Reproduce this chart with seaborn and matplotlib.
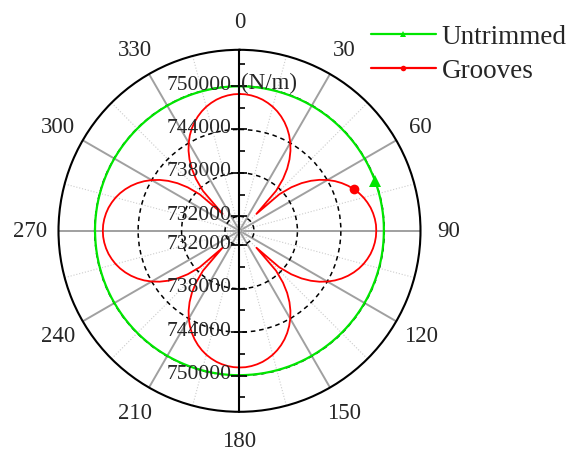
import numpy as np
import pandas as pd
import matplotlib
matplotlib.use("Agg")
import matplotlib.pyplot as plt
import matplotlib.transforms as mtransforms
from matplotlib.lines import Line2D
import seaborn as sns

# angle in degrees (0 at top, clockwise) and stiffness in N/m, read every 2.5 deg
angles_deg = [i * 2.5 for i in range(145)]

grooves = [
    # 0 - 87.5
    748900, 748870, 748770, 748610, 748390, 748090, 747740, 747310, 746810,
    746240, 745590, 744860, 744030, 743100, 742040, 740820, 739360, 737480,
    733300, 737480, 739360, 740820, 742040, 743100, 744030, 744860, 745590,
    746240, 746810, 747310, 747740, 748090, 748390, 748610, 748770, 748870,
    # 90 - 177.5
    748890, 748860, 748760, 748600, 748380, 748080, 747730, 747300, 746800,
    746230, 745580, 744850, 744020, 743090, 742030, 740810, 739350, 737470,
    733300, 737470, 739350, 740810, 742030, 743090, 744020, 744850, 745580,
    746230, 746800, 747300, 747730, 748080, 748380, 748600, 748760, 748860,
    # 180 - 267.5
    748880, 748850, 748750, 748590, 748370, 748070, 747720, 747290, 746790,
    746220, 745570, 744840, 744010, 743080, 742020, 740800, 739340, 737460,
    733300, 737460, 739340, 740800, 742020, 743080, 744010, 744840, 745570,
    746220, 746790, 747290, 747720, 748070, 748370, 748590, 748750, 748850,
    # 270 - 357.5
    748880, 748850, 748750, 748590, 748370, 748070, 747720, 747290, 746790,
    746220, 745570, 744840, 744010, 743080, 742020, 740800, 739340, 737460,
    733300, 737480, 739360, 740820, 742040, 743100, 744030, 744860, 745590,
    746240, 746810, 747310, 747740, 748090, 748390, 748610, 748770, 748870,
    # 360
    748900,
]

untrimmed = [
    749960, 749960, 749960, 749960, 749960, 749950, 749950, 749950, 749950,
    749950, 749950, 749950, 749950, 749950, 749950, 749950, 749950, 749950,
    749950, 749950, 749950, 749950, 749950, 749950, 749950, 749950, 749950,
    749950, 749950, 749950, 749950, 749950, 749950, 749950, 749950, 749950,
    749940, 749940, 749940, 749940, 749940, 749940, 749940, 749940, 749940,
    749940, 749940, 749940, 749940, 749940, 749940, 749940, 749940, 749940,
    749940, 749940, 749940, 749940, 749940, 749940, 749940, 749940, 749940,
    749940, 749940, 749940, 749940, 749940, 749940, 749940, 749940, 749940,
    749950, 749950, 749950, 749950, 749950, 749950, 749950, 749950, 749950,
    749950, 749950, 749950, 749950, 749950, 749950, 749950, 749950, 749950,
    749950, 749950, 749950, 749950, 749950, 749950, 749950, 749950, 749950,
    749950, 749950, 749950, 749950, 749950, 749950, 749950, 749950, 749950,
    749960, 749960, 749960, 749960, 749960, 749960, 749960, 749960, 749960,
    749960, 749960, 749960, 749960, 749960, 749960, 749960, 749960, 749960,
    749960, 749960, 749960, 749960, 749960, 749960, 749960, 749960, 749960,
    749960, 749960, 749960, 749960, 749960, 749960, 749960, 749960, 749960,
    749960,
]

theta_labels = list(range(0, 360, 30))
theta_minor = list(range(15, 360, 30))
r_major = [732000, 738000, 744000, 750000]
r_minor = [735000, 741000, 747000, 753000]
r_lim = (730000, 755000)
marker_at = 28  # the single symbol sits at 70 deg

df = pd.DataFrame({
    "theta": np.deg2rad(angles_deg),
    "Grooves": grooves,
    "Untrimmed": untrimmed,
})

sns.set_style("white")
plt.rcParams["font.family"] = ["Liberation Serif", "DejaVu Serif"]

fig = plt.figure(figsize=(5.69, 4.52), dpi=100)
ax = fig.add_axes([0.10281, 0.08673, 0.63620, 0.80088], projection="polar")
ax.set_theta_zero_location("N")
ax.set_theta_direction(-1)
ax.set_ylim(*r_lim)

green = "#00e600"
red = "#ff0000"

sns.lineplot(data=df, x="theta", y="Untrimmed", ax=ax, color=green, lw=1.6,
             sort=False, marker="^", markevery=[marker_at], markersize=8,
             markeredgewidth=0, zorder=3)
sns.lineplot(data=df, x="theta", y="Grooves", ax=ax, color=red, lw=1.3,
             sort=False, marker="o", markevery=[marker_at], markersize=7,
             markeredgewidth=0, zorder=3)
ax.set_xlabel("")
ax.set_ylabel("")

# angular grid and ticks
ax.set_xticks(np.deg2rad(theta_labels))
ax.set_xticks(np.deg2rad(theta_minor), minor=True)
ax.set_xticklabels([])
ax.xaxis.grid(True, which="major", color="#a0a0a0", lw=1.4, ls="-")
ax.xaxis.grid(True, which="minor", color="#cccccc", lw=0.8, ls=":")
ax.tick_params(axis="x", which="major", direction="in", length=6, width=1.2, color="k")
ax.tick_params(axis="x", which="minor", direction="in", length=3, width=1.0, color="k")

# radial grid
ax.set_yticks(r_major)
ax.set_yticklabels([])
ax.yaxis.grid(True, color="k", lw=1.1, ls=(0, (3, 2.5)))
ax.tick_params(axis="y", length=0)
ax.set_axisbelow(True)
ax.spines["polar"].set_linewidth(1.5)
ax.spines["polar"].set_color("k")

# vertical radial axis through the centre
ax.plot([0.5, 0.5], [0, 1], transform=ax.transAxes, color="k", lw=1.5,
        zorder=4, clip_on=False)
for th in (0, np.pi):
    ax.plot([th] * len(r_major), r_major, ls="none", marker="_", ms=11,
            mew=1.2, color="k", zorder=4, clip_on=False)
    ax.plot([th] * len(r_minor), r_minor, ls="none", marker=1, ms=4.5,
            mew=1.2, color="k", zorder=4, clip_on=False)

lab_tr = mtransforms.offset_copy(ax.transData, fig=fig, x=-8, y=2, units="dots")
for th in (0, np.pi):
    for r in r_major:
        ax.text(th, r, str(r), transform=lab_tr, ha="right", va="center",
                fontsize=15.5, zorder=5)
unit_tr = mtransforms.offset_copy(ax.transData, fig=fig, x=2, y=4, units="dots")
ax.text(0, r_major[-1], "(N/m)", transform=unit_tr, ha="left", va="center",
        fontsize=16.5, zorder=5)

# angle labels
for a in theta_labels:
    ax.text(np.deg2rad(a), 758900, str(a), ha="center", va="center",
            fontsize=16.5, clip_on=False)

handles = [
    Line2D([], [], color=green, lw=1.6, marker="^", markersize=4, markeredgewidth=0),
    Line2D([], [], color=red, lw=1.6, marker="o", markersize=4, markeredgewidth=0),
]
fig.legend(handles, ["Untrimmed", "Grooves"], loc="upper left",
           bbox_to_anchor=(0.652, 0.944), frameon=False, fontsize=19.5,
           handlelength=2.4, handletextpad=0.2, labelspacing=0.33,
           borderpad=0, borderaxespad=0)

fig.savefig("out.png", dpi=100)
